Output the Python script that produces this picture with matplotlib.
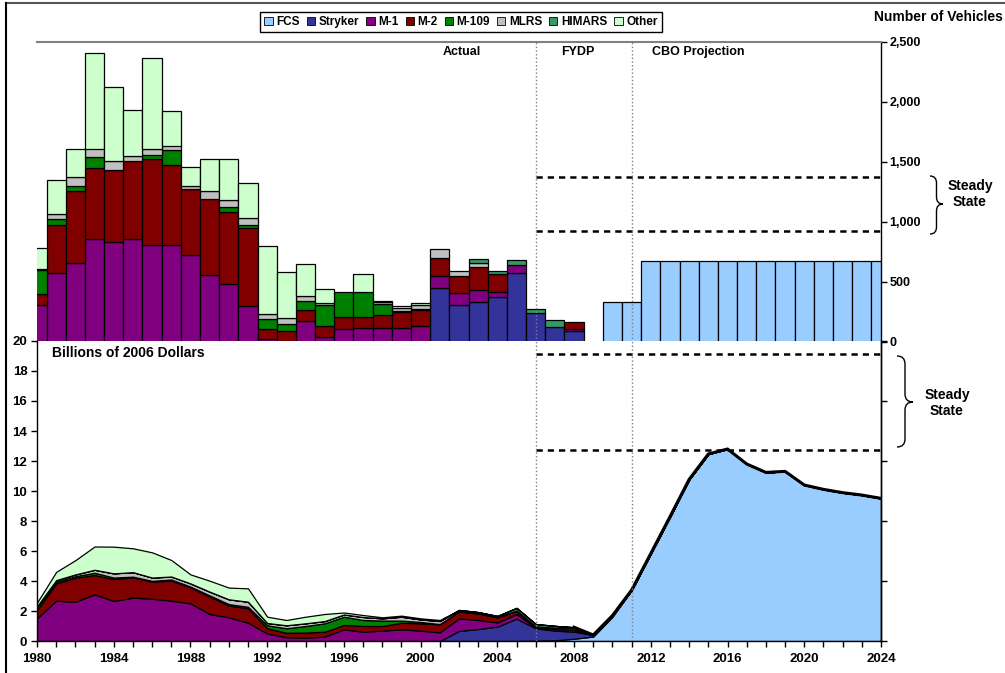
import matplotlib
matplotlib.use('Agg')
import matplotlib.pyplot as plt
import numpy as np
from matplotlib.patches import Patch, PathPatch
from matplotlib.path import Path
from matplotlib.lines import Line2D

plt.rcParams['font.family'] = ['Liberation Sans', 'DejaVu Sans']
plt.rcParams['font.weight'] = 'bold'

W, H = 1005, 673

years = list(range(1980, 2025))
series_names = ['FCS', 'Stryker', 'M-1', 'M-2', 'M-109', 'MLRS', 'HIMARS', 'Other']
series_colors = ['#99CCFF', '#333399', '#800080', '#800000', '#008000', '#C0C0C0', '#339966', '#CCFFCC']

# ---- Number of vehicles (1980-2024) ----
veh_fcs = [0, 0, 0, 0, 0, 0, 0, 0, 0, 0, 0, 0, 0, 0, 0, 0, 0, 0, 0, 0, 0, 0, 0, 0, 0,
           0, 0, 0, 0, 0, 330, 330, 670, 670, 670, 670, 670, 670, 670, 670, 670, 670, 670, 670, 670]
veh_stryker = [0, 0, 0, 0, 0, 0, 0, 0, 0, 0, 0, 0, 0, 0, 0, 0, 0, 0, 0, 0, 0, 445, 303, 331, 372,
               570, 239, 120, 87, 0, 0, 0, 0, 0, 0, 0, 0, 0, 0, 0, 0, 0, 0, 0, 0]
veh_m1 = [310, 570, 660, 855, 835, 855, 805, 805, 720, 555, 480, 300, 20, 0, 170, 37, 103, 117, 117, 117,
          131, 100, 100, 103, 39, 67, 0, 0, 16, 0, 0, 0, 0, 0, 0, 0, 0, 0, 0, 0, 0, 0, 0, 0, 0]
veh_m2 = [90, 400, 600, 595, 600, 650, 715, 665, 550, 635, 600, 645, 90, 87, 95, 94, 100, 86, 103, 128,
          133, 155, 147, 186, 151, 0, 0, 0, 61, 0, 0, 0, 0, 0, 0, 0, 0, 0, 0, 0, 0, 0, 0, 0, 0]
veh_m109 = [195, 50, 40, 90, 0, 0, 40, 125, 5, 0, 40, 25, 80, 60, 78, 172, 214, 214, 92, 8,
            5, 0, 0, 0, 0, 0, 0, 0, 0, 0, 0, 0, 0, 0, 0, 0, 0, 0, 0, 0, 0, 0, 0, 0, 0]
veh_mlrs = [15, 45, 75, 70, 75, 45, 45, 40, 25, 65, 65, 65, 40, 47, 40, 17, 0, 0, 19, 25,
            37, 75, 37, 33, 0, 0, 0, 0, 0, 0, 0, 0, 0, 0, 0, 0, 0, 0, 0, 0, 0, 0, 0, 0, 0]
veh_himars = [0, 0, 0, 0, 0, 0, 0, 0, 0, 0, 0, 0, 0, 0, 0, 0, 0, 0, 0, 0,
              0, 0, 0, 36, 25, 41, 33, 58, 0, 0, 0, 0, 0, 0, 0, 0, 0, 0, 0, 0, 0, 0, 0, 0, 0]
veh_other = [175, 280, 235, 800, 610, 385, 760, 290, 160, 270, 340, 285, 570, 383, 267, 117, 0, 145, 8, 22,
             14, 0, 0, 0, 0, 0, 0, 0, 0, 0, 0, 0, 0, 0, 0, 0, 0, 0, 0, 0, 0, 0, 0, 0, 0]

# ---- Billions of 2006 dollars (1980-2024) ----
cost_fcs = [0, 0, 0, 0, 0, 0, 0, 0, 0, 0, 0, 0, 0, 0, 0, 0, 0, 0, 0, 0, 0, 0, 0, 0, 0,
            0, 0.02, 0.05, 0.15, 0.3, 1.62, 3.4, 5.84, 8.29, 10.78,
            12.47, 12.8, 11.8, 11.24, 11.31, 10.4, 10.11, 9.89, 9.73, 9.51]
cost_stryker = [0, 0, 0, 0, 0, 0, 0, 0, 0, 0, 0, 0, 0, 0, 0, 0, 0, 0, 0, 0,
                0, 0, 0.67, 0.8, 0.96, 1.49, 0.82, 0.64, 0.47, 0.1, 0.08,
                0, 0, 0, 0, 0, 0, 0, 0, 0, 0, 0, 0, 0, 0]
cost_m1 = [1.51, 2.69, 2.62, 3.11, 2.67, 2.89, 2.82, 2.69, 2.51, 1.80, 1.58, 1.22, 0.5, 0.25, 0.22,
           0.29, 0.78, 0.62, 0.69, 0.78, 0.69, 0.58, 0.84, 0.6, 0.28, 0.31, 0.05, 0.1, 0.11, 0,
           0, 0, 0, 0, 0, 0, 0, 0, 0, 0, 0, 0, 0, 0, 0]
cost_m2 = [0.55, 1.15, 1.6, 1.29, 1.46, 1.35, 1.14, 1.33, 1.07, 1.16, 0.78, 0.96, 0.35, 0.3, 0.34,
           0.33, 0.29, 0.38, 0.31, 0.44, 0.49, 0.53, 0.45, 0.44, 0.34, 0.2, 0.08, 0.1, 0.15, 0,
           0, 0, 0, 0, 0, 0, 0, 0, 0, 0, 0, 0, 0, 0, 0]
cost_m109 = [0.2, 0.12, 0.1, 0.15, 0.1, 0.05, 0.05, 0.08, 0.05, 0.08, 0.1, 0.1, 0.2, 0.3, 0.44,
             0.56, 0.55, 0.4, 0.36, 0.14, 0.09, 0.02, 0.02, 0, 0, 0, 0, 0, 0, 0,
             0, 0, 0, 0, 0, 0, 0, 0, 0, 0, 0, 0, 0, 0, 0]
cost_mlrs = [0.05, 0.1, 0.12, 0.2, 0.28, 0.3, 0.22, 0.2, 0.21, 0.25, 0.32, 0.34, 0.15, 0.2, 0.18,
             0.15, 0.15, 0.2, 0.15, 0.26, 0.17, 0.2, 0.07, 0.05, 0.03, 0.03, 0, 0, 0, 0,
             0, 0, 0, 0, 0, 0, 0, 0, 0, 0, 0, 0, 0, 0, 0]
cost_himars = [0, 0, 0, 0, 0, 0, 0, 0, 0, 0, 0, 0, 0, 0, 0, 0, 0, 0, 0, 0,
               0, 0, 0.02, 0.04, 0.06, 0.18, 0.16, 0.12, 0.04, 0,
               0, 0, 0, 0, 0, 0, 0, 0, 0, 0, 0, 0, 0, 0, 0]
cost_other = [0.25, 0.55, 0.95, 1.55, 1.78, 1.59, 1.68, 1.1, 0.6, 0.73, 0.78, 0.89, 0.42, 0.35, 0.44,
              0.47, 0.13, 0.13, 0.07, 0.07, 0.07, 0.07, 0, 0, 0, 0, 0, 0, 0, 0,
              0, 0, 0, 0, 0, 0, 0, 0, 0, 0, 0, 0, 0, 0, 0]

veh_series = [veh_fcs, veh_stryker, veh_m1, veh_m2, veh_m109, veh_mlrs, veh_himars, veh_other]
cost_series = [cost_fcs, cost_stryker, cost_m1, cost_m2, cost_m109, cost_mlrs, cost_himars, cost_other]

veh_yticks = [0, 500, 1000, 1500, 2000, 2500]
cost_yticks = [0, 2, 4, 6, 8, 10, 12, 14, 16, 18, 20]
steady_veh = [925, 1375]
steady_cost = [12.75, 19.15]
period_bounds = [2006, 2011]


def fx(px):
    return px / W


def fy(py):
    return 1 - py / H


fig = plt.figure(figsize=(W / 100, H / 100), dpi=100)
fig.patch.set_facecolor('white')

ax_top = fig.add_axes([fx(37), fy(341.7), (881 - 37) / W, (341.7 - 41.7) / H])
ax_bot = fig.add_axes([fx(37), fy(641), (881 - 37) / W, 300 / H])

yrs = np.array(years)
# ---- top: stacked bars ----
bottom = np.zeros(len(years))
for name, vals, c in zip(series_names, veh_series, series_colors):
    v = np.array(vals, dtype=float)
    m = v > 0
    ax_top.bar(yrs[m], v[m], bottom=bottom[m], width=1.0, color=c, edgecolor='black',
               linewidth=0.9, zorder=2)
    bottom += v

ax_top.set_xlim(1980, 2024)
ax_top.set_ylim(0, 2500)
ax_top.yaxis.tick_right()
ax_top.set_yticks(veh_yticks)
ax_top.set_yticklabels([f'{t:,}' for t in veh_yticks])
ax_top.tick_params(axis='y', direction='out', length=4, width=1, labelsize=9, pad=2)
ax_top.set_xticks([])
ax_top.spines['left'].set_visible(False)
ax_top.spines['top'].set_color('#808080')
ax_top.spines['top'].set_linewidth(1.5)
ax_top.spines['right'].set_linewidth(1.0)
ax_top.spines['bottom'].set_linewidth(1.0)
for lvl in steady_veh:
    ax_top.plot([period_bounds[0], 2024], [lvl, lvl], color='black', lw=1.8,
                dashes=(2.5, 2), zorder=4, clip_on=False)
for b in period_bounds:
    ax_top.axvline(b, color='#808080', ls=':', lw=1.0, zorder=5)

# ---- bottom: stacked area ----
ax_bot.stackplot(yrs, *cost_series, colors=series_colors, edgecolor='black', linewidth=0.9, zorder=2)
total = np.sum(np.array(cost_series), axis=0)
m = yrs >= 2008
ax_bot.plot(yrs[m], total[m], color='black', lw=2.2, zorder=3)
ax_bot.set_xlim(1980, 2024)
ax_bot.set_ylim(0, 20)
ax_bot.set_yticks(cost_yticks)
ax_bot.set_yticklabels([str(t) for t in cost_yticks])
ax_bot.tick_params(axis='y', direction='out', length=4, width=1, labelsize=9.5, pad=3)
ax_bot.set_xticks(list(range(1980, 2025, 4)))
ax_bot.set_xticks(years, minor=True)
ax_bot.set_xticklabels([str(y) for y in range(1980, 2025, 4)])
ax_bot.tick_params(axis='x', which='both', direction='out', length=4, width=1, labelsize=9.5, pad=5)
ax_bot.spines['top'].set_visible(False)
for s in ['left', 'right', 'bottom']:
    ax_bot.spines[s].set_linewidth(1.0)
for lvl in steady_cost:
    ax_bot.plot([period_bounds[0], 2024], [lvl, lvl], color='black', lw=1.8,
                dashes=(2.5, 2), zorder=4, clip_on=False)
for b in period_bounds:
    ax_bot.axvline(b, color='#808080', ls=':', lw=1.0, zorder=5)

ax_r = ax_bot.twinx()
ax_r.set_ylim(0, 20)
ax_r.set_yticks([0, 4, 8, 12, 16, 20])
ax_r.set_yticklabels([])
ax_r.tick_params(axis='y', direction='out', length=4, width=1)
for s in ['left', 'top', 'bottom']:
    ax_r.spines[s].set_visible(False)
ax_r.spines['right'].set_linewidth(1.0)

# ---- texts ----
fig.text(fx(462), fy(52), 'Actual', ha='center', va='center', fontsize=9, fontweight='bold')
fig.text(fx(578), fy(52), 'FYDP', ha='center', va='center', fontsize=9, fontweight='bold')
fig.text(fx(698), fy(52), 'CBO Projection', ha='center', va='center', fontsize=9, fontweight='bold')
fig.text(fx(52), fy(353), 'Billions of 2006 Dollars', ha='left', va='center', fontsize=10, fontweight='bold')
fig.text(fx(874), fy(17), 'Number of Vehicles', ha='left', va='center', fontsize=10, fontweight='bold')
fig.text(fx(970), fy(194), 'Steady\nState', ha='center', va='center', fontsize=10, fontweight='bold',
         linespacing=1.15)
fig.text(fx(947), fy(403), 'Steady\nState', ha='center', va='center', fontsize=10, fontweight='bold',
         linespacing=1.15)


def brace(x0, yt, yb, ym, w, r):
    xm = x0 + w / 2
    pts = [(x0, yt), (xm, yt), (xm, yt + r), (xm, ym - r), (xm, ym), (x0 + w, ym),
           (xm, ym), (xm, ym + r), (xm, yb - r), (xm, yb), (x0, yb)]
    codes = [Path.MOVETO, Path.CURVE3, Path.CURVE3, Path.LINETO, Path.CURVE3, Path.CURVE3,
             Path.CURVE3, Path.CURVE3, Path.LINETO, Path.CURVE3, Path.CURVE3]
    verts = [(fx(p[0]), fy(p[1])) for p in pts]
    fig.add_artist(PathPatch(Path(verts, codes), transform=fig.transFigure, facecolor='none',
                             edgecolor='black', lw=1.0))


brace(930, 176, 234, 204, 13, 7)
brace(897, 356, 447, 402, 16, 8)

# ---- legend ----
handles = [Patch(facecolor=c, edgecolor='black', linewidth=0.6) for c in series_colors]
leg = fig.legend(handles, series_names, loc='center', bbox_to_anchor=(fx(461), fy(22)), ncol=8,
                 frameon=True, fancybox=False, edgecolor='black', framealpha=1,
                 handlelength=0.7, handleheight=0.7, handletextpad=0.3, columnspacing=0.6,
                 borderpad=0.35, prop={'weight': 'bold', 'size': 8.5})
leg.get_frame().set_linewidth(1.0)

# ---- figure border ----
fig.add_artist(Line2D([fx(6), 1], [fy(3), fy(3)], transform=fig.transFigure, color='#555555', lw=1.5))
fig.add_artist(Line2D([fx(6), fx(6)], [0, fy(3)], transform=fig.transFigure, color='black', lw=1.5))

fig.savefig('out.png', dpi=100, facecolor='white')
